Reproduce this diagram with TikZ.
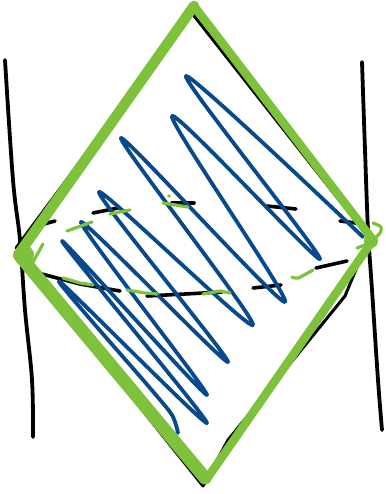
\documentclass[tikz,border=0pt]{standalone}
\definecolor{sgreen}{RGB}{125,194,58}
\definecolor{sblue}{RGB}{8,72,140}
\begin{document}
\begin{tikzpicture}[x=1pt,y=-1pt,
  blackline/.style={black,line width=3.8pt,line cap=round,line join=round},
  dashbit/.style={black,line width=3.6pt,line cap=round},
  greenedge/.style={sgreen,line width=9pt,line cap=round,line join=round},
  greenbit/.style={sgreen,line width=3.2pt,line cap=round,line join=round},
  scribble/.style={sblue,line width=3.8pt,line cap=round,line join=round}]
\useasboundingbox (0,0) rectangle (385,494);

% vertical lines
\draw[blackline] plot[smooth,tension=0.6] coordinates {(5,60) (13,180) (20,240) (25,310) (32,380) (33,437)};
\draw[blackline] plot[smooth,tension=0.6] coordinates {(362,62) (365,150) (368,230) (372,290) (378,380) (382,430)};

% black diamond underneath
\draw[blackline,line width=3pt] (16,248) -- (191,12) -- (369,238) -- (345,296) -- (228,440) -- (203,486) -- (18,255);

% black dashed "ellipse"
\draw[dashbit] (44,224) -- (55,221);
\draw[dashbit] (93,213) -- (118,208);
\draw[dashbit] (172,203) -- (194,203);
\draw[dashbit] (267,206) -- (296,209);
\draw[dashbit] (340,221) -- (356,223);
\draw[dashbit] (38,273) -- (80,284) -- (120,291);
\draw[dashbit] (147,296) -- (185,294) -- (222,292);
\draw[dashbit] (253,288) -- (281,285);
\draw[dashbit] (316,268) -- (347,261);

% blue scribble
\draw[scribble] plot[smooth,tension=0.45] coordinates {(363,237) (186,76) (320,259) (172,116) (285,302) (121,138) (253,325) (99,192) (228,362) (81,222) (207,395) (62,241) (207,423) (59,281) (150,388) (172,415) (178,433)};

% green diamond
\draw[greenedge,line width=10.5pt] (18,255) -- (194,6);
\draw[greenedge,line width=8.5pt] (194,6) -- (373,240);
\draw[greenedge,line width=8.5pt] (373,240) -- (206,480);
\draw[greenedge,line width=13pt] (20,256) -- (205,478);
\fill[sgreen] (24,255) circle (10pt);
\fill[sgreen] (371,241) circle (7pt);

% green accents
\draw[greenbit] (67,231) -- (92,222);
\draw[greenbit] (110,214) -- (130,210);
\draw[greenbit] (163,203) -- (188,207);
\fill[sgreen] (169,196) circle (1.8pt);
\draw[greenbit] (63,278) -- (80,283) -- (93,285);
\draw[greenbit] (127,290) -- (145,293) -- (157,294);
\draw[greenbit] (203,294) -- (220,291) -- (230,293);
\draw[greenbit] plot[smooth] coordinates {(292,277) (298,278) (313,270)};
\draw[greenbit] (357,248) -- (370,243);
\draw[greenbit] plot[smooth] coordinates {(373,223) (381,227) (380,233) (373,240)};
\draw[greenbit] (33,262) -- (43,244);
\end{tikzpicture}
\end{document}
